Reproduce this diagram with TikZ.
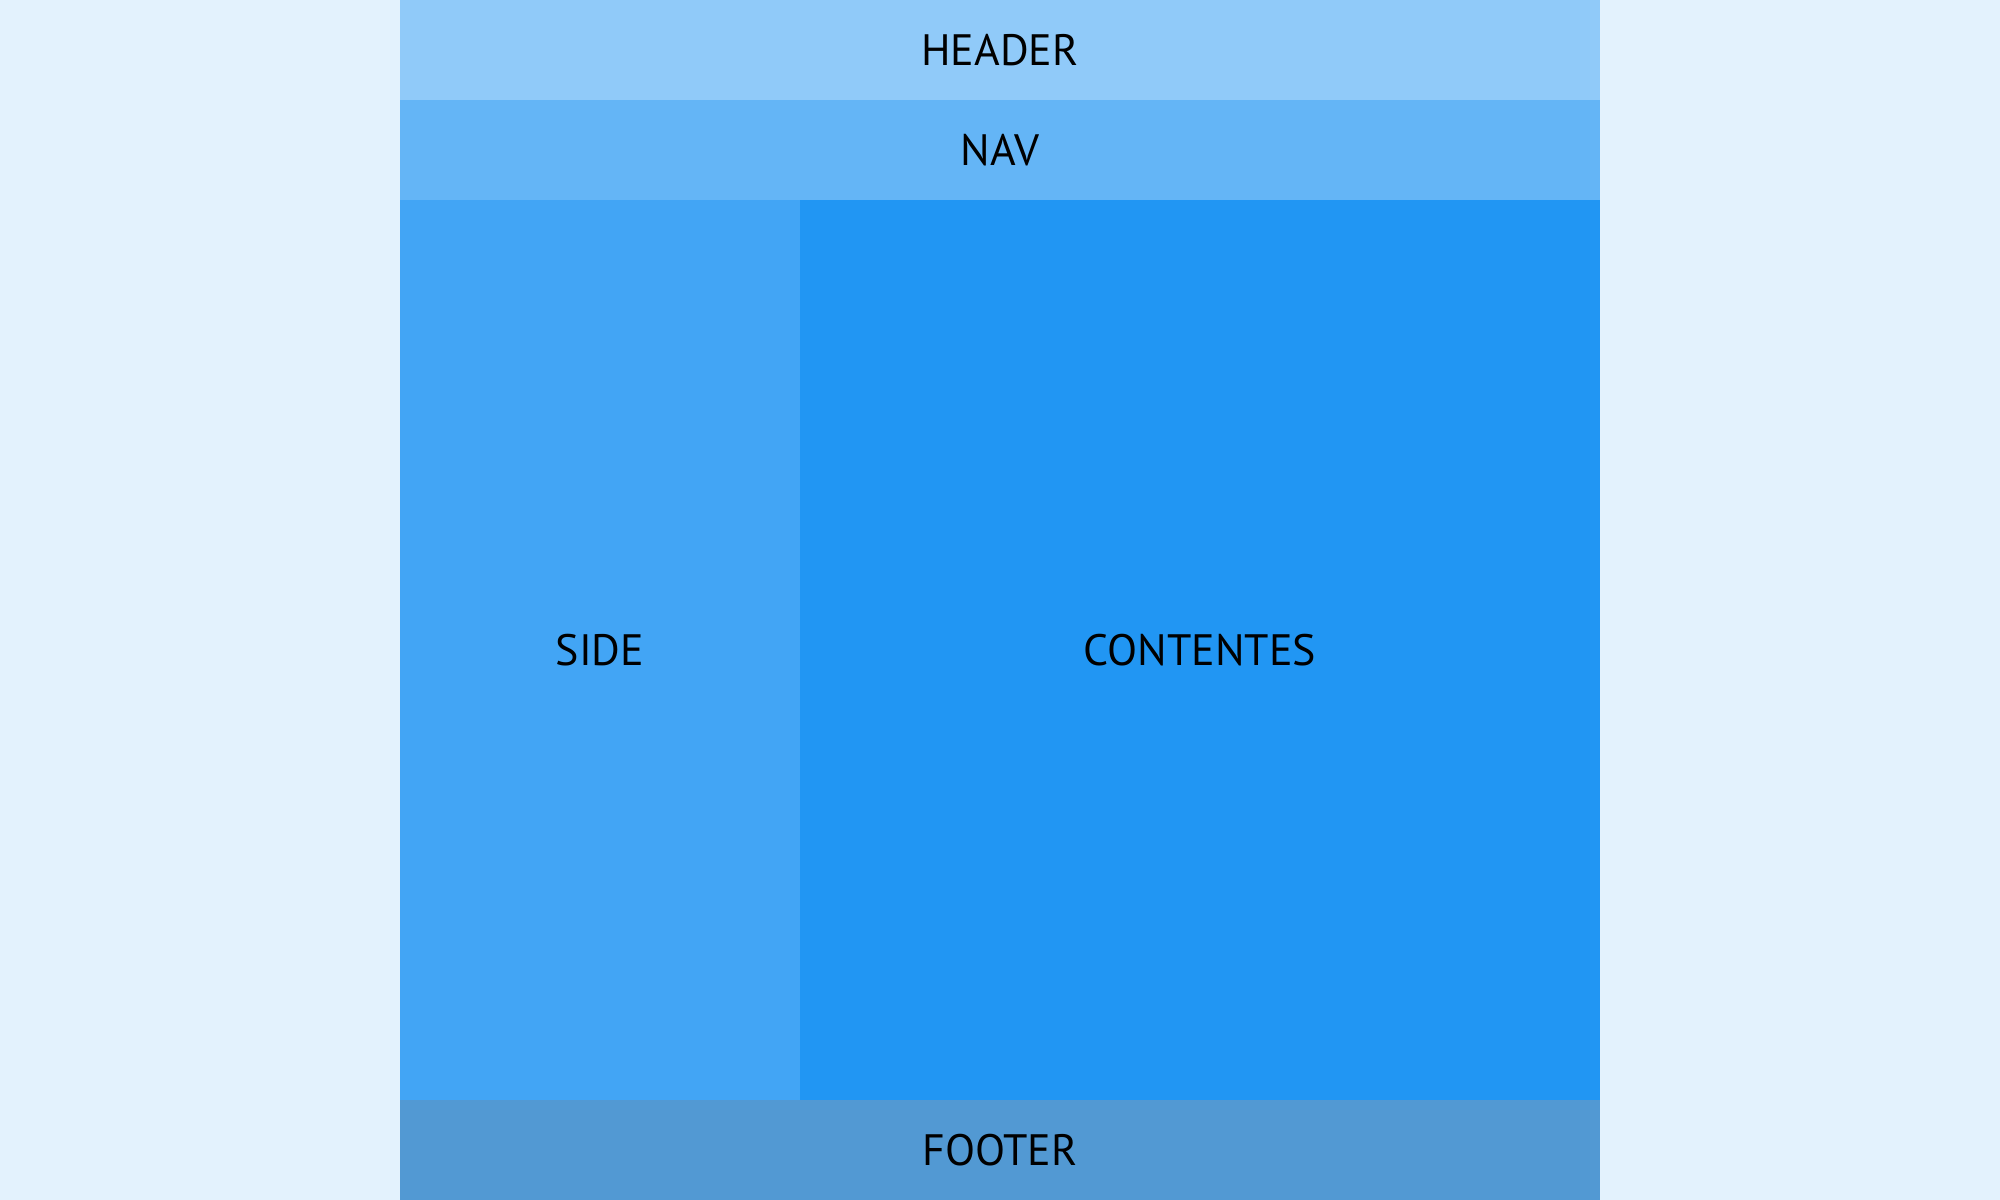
\documentclass[tikz,border=0pt]{standalone}
\usepackage{fontspec}
\setmainfont{PT Sans}
\definecolor{bgc}{HTML}{E3F2FD}
\definecolor{hdc}{HTML}{90CAF9}
\definecolor{nvc}{HTML}{64B5F6}
\definecolor{sdc}{HTML}{42A5F5}
\definecolor{ctc}{HTML}{2196F3}
\definecolor{ftc}{HTML}{5299D3}
\begin{document}
\begin{tikzpicture}[x=0.01cm,y=-0.01cm,
  area/.style={draw=none,inner sep=0pt,outer sep=0pt,font=\fontsize{12.5}{14}\selectfont,text=black}]
\useasboundingbox (0,0) rectangle (2000,1200);
\fill[bgc] (0,0) rectangle (2000,1200);
\fill[hdc] (400,0) rectangle (1600,100);
\fill[nvc] (400,100) rectangle (1600,200);
\fill[sdc] (400,200) rectangle (800,1100);
\fill[ctc] (800,200) rectangle (1600,1100);
\fill[ftc] (400,1100) rectangle (1600,1200);
\node[area] (header) at (1000,50) {HEADER};
\node[area] (nav) at (1000,150) {NAV};
\node[area] (side) at (600,650) {SIDE};
\node[area] (content) at (1200,650) {CONTENTES};
\node[area] (footer) at (1000,1150) {FOOTER};
\end{tikzpicture}
\end{document}
